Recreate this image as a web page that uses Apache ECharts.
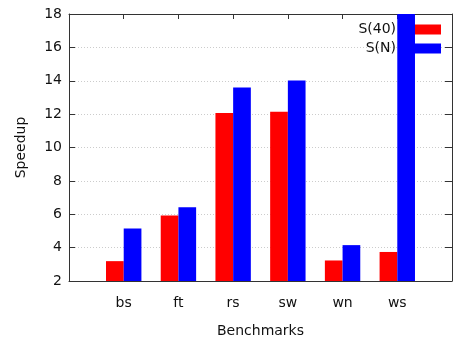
<!DOCTYPE html>
<html>
<head>
<meta charset="utf-8">
<script src="https://cdn.jsdelivr.net/npm/echarts@6/dist/echarts.min.js"></script>
<style>
html,body{margin:0;padding:0;background:#fff;}
#chart{width:455px;height:343px;}
</style>
</head>
<body>
<div id="chart"></div>
<script>
var categories = ['bs', 'ft', 'rs', 'sw', 'wn', 'ws'];
var s40 = [3.19, 5.92, 12.06, 12.14, 3.23, 3.74];
var sN = [5.15, 6.42, 13.6, 14.02, 4.15, 19.5];
var yTicks = [2, 4, 6, 8, 10, 12, 14, 16, 18];

var axisCats = [''].concat(categories, ['']);
function pad(arr) { return ['-'].concat(arr, ['-']); }

var FONT = 'DejaVu Sans';
var TXT = '#111111';
var AX = '#333333';

var chart = echarts.init(document.getElementById('chart'), null, {renderer: 'canvas'});
chart.setOption({
  animation: false,
  backgroundColor: '#ffffff',
  textStyle: {fontFamily: FONT},
  grid: {left: 69, top: 14, width: 387, height: 272, containLabel: false},
  legend: {
    orient: 'vertical',
    right: 9,
    top: 15,
    align: 'right',
    itemWidth: 40,
    itemHeight: 10,
    itemGap: 0,
    z: 1,
    icon: 'rect',
    textStyle: {fontFamily: FONT, fontSize: 14, color: TXT, lineHeight: 19},
    data: ['S(40)', 'S(N)']
  },
  xAxis: [{
    type: 'category',
    position: 'bottom',
    data: axisCats,
    boundaryGap: false,
    axisLine: {show: true, lineStyle: {color: AX, width: 1}},
    axisTick: {show: false},
    splitLine: {show: false},
    axisLabel: {fontFamily: FONT, fontSize: 14, color: TXT, margin: 15, interval: 0},
    name: 'Benchmarks',
    nameLocation: 'middle',
    nameGap: 43,
    nameTextStyle: {fontFamily: FONT, fontSize: 14, color: TXT}
  }, {
    type: 'category',
    position: 'top',
    data: axisCats,
    boundaryGap: false,
    axisLine: {show: true, lineStyle: {color: AX, width: 1}},
    axisTick: {show: true, inside: true, length: 5, interval: 0, lineStyle: {color: AX}},
    axisLabel: {show: false},
    splitLine: {show: false}
  }],
  yAxis: [{
    type: 'value',
    position: 'left',
    min: yTicks[0],
    max: yTicks[yTicks.length - 1],
    interval: 2,
    axisLine: {show: true, lineStyle: {color: AX, width: 1}},
    axisTick: {show: true, inside: true, length: 6, lineStyle: {color: AX}},
    axisLabel: {fontFamily: FONT, fontSize: 14, color: TXT, margin: 7},
    splitLine: {show: true, lineStyle: {color: '#cccccc', type: [1, 2], width: 1}},
    name: 'Speedup',
    nameLocation: 'middle',
    nameGap: 41,
    nameTextStyle: {fontFamily: FONT, fontSize: 14, color: TXT}
  }, {
    type: 'value',
    position: 'right',
    min: yTicks[0],
    max: yTicks[yTicks.length - 1],
    interval: 2,
    axisLine: {show: true, lineStyle: {color: AX, width: 1}},
    axisTick: {show: true, inside: true, length: 7, lineStyle: {color: AX}},
    axisLabel: {show: false},
    splitLine: {show: false}
  }],
  series: [{
    name: 'S(40)',
    type: 'bar',
    xAxisIndex: 0,
    yAxisIndex: 0,
    data: pad(s40),
    barWidth: 17.7,
    barGap: '0%',
    clip: true,
    z: 5,
    itemStyle: {color: '#ff0000'}
  }, {
    name: 'S(N)',
    type: 'bar',
    xAxisIndex: 0,
    yAxisIndex: 0,
    data: pad(sN),
    barWidth: 17.7,
    barGap: '0%',
    clip: true,
    z: 5,
    itemStyle: {color: '#0000ff'}
  }]
});
</script>
</body>
</html>
